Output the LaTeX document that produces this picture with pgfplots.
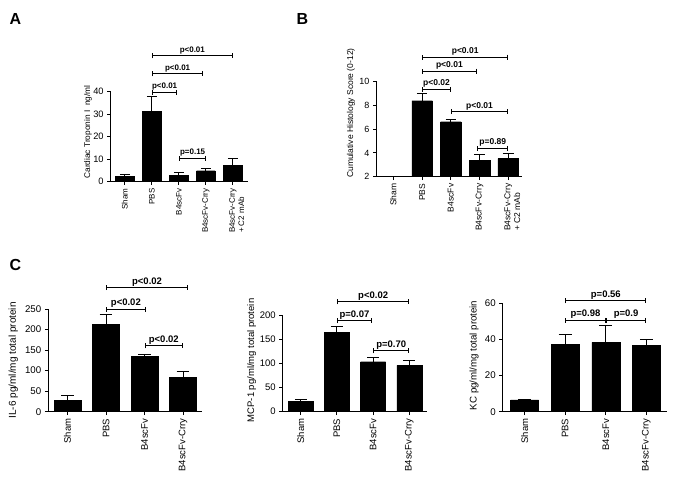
\documentclass[border=0pt]{standalone}
\usepackage{fontspec}
\setmainfont{Liberation Sans}
\usepackage{pgfplots}
\pgfplotsset{compat=1.18}
\usetikzlibrary{arrows.meta}
\newcommand{\fs}[1]{\fontsize{#1}{#1}\selectfont}
\newcommand{\pfont}{\bfseries\fs{8}}
\newcommand{\br}[4]{\draw[{Bar[width=5pt]}-{Bar[width=5pt]}, line width=1pt] (axis cs:#1,#3) -- (axis cs:#2,#3) node[midway, anchor=base, inner sep=0pt, yshift=3.5pt, font=\pfont]{#4};}
\newcommand{\twoline}{\rlap{\smash{\raisebox{-1.15em}{+ C2 mAb}}}B4scFv-Crry}
\pgfplotsset{
  panel/.style={
    scale only axis,
    anchor=south west,
    axis lines=left,
    axis line style={-, line width=1pt},
    tick style={line width=1pt, black},
    tick align=outside,
    major tick length=3.5pt,
    enlargelimits=false,
    clip mode=individual,
    ybar,
    xtick={0,1,2,3,4},
    xticklabel style={rotate=90, anchor=east},
    /pgf/number format/assume math mode=true,
    every axis y label/.append style={anchor=center},
  },
  barsty/.style={fill=black, draw=black, line width=0.4pt,
    error bars/.cd, y dir=plus, y explicit,
    error bar style={line width=1pt, black},
    error mark options={rotate=90, line width=1pt, black, mark size=#1}},
}
\begin{document}
\begin{tikzpicture}
\useasboundingbox (0,0) rectangle (676pt,485pt);
\node[anchor=base west, inner sep=0pt, font=\bfseries\fs{16}] at (9.5pt,460pt) {A};
\node[anchor=base west, inner sep=0pt, font=\bfseries\fs{16}] at (296.5pt,460pt) {B};
\node[anchor=base west, inner sep=0pt, font=\bfseries\fs{16}] at (9.5pt,215pt) {C};

% ---------------- A
\renewcommand{\pfont}{\bfseries\fs{8}}
\begin{axis}[panel, at={(110.7pt,303.5pt)}, width=137.3pt, height=89.8pt,
  xmin=-0.52, xmax=4.56, ymin=0, ymax=40, ytick={0,10,20,30,40},
  bar width=18.5pt,
  xticklabels={Sham,PBS,B4scFv,B4scFv-Crry,\twoline},
  xticklabel style={font=\fs{8}}, yticklabel style={font=\fs{9.3}},
  ylabel={Cardiac Troponin I\ \ ng/ml}, ylabel style={font=\fs{8.3}, at={(axis description cs:-0.165,0.55)}}]
\addplot[barsty=5pt] coordinates {(0,2.4) +- (0,0.6) (1,31.4) +- (0,6.4) (2,2.8) +- (0,1.2) (3,4.8) +- (0,1.0) (4,7.3) +- (0,3.0)};
\br{1}{4}{55.9}{p<0.01}
\br{1}{2.91}{47.9}{p<0.01}
\br{1}{1.95}{39.7}{p<0.01}
\br{2.02}{3.0}{10.3}{p=0.15}
\end{axis}

% ---------------- B
\renewcommand{\pfont}{\bfseries\fs{8.5}}
\begin{axis}[panel, at={(376.5pt,308.3pt)}, width=145.5pt, height=95pt,
  xmin=-0.59, xmax=4.48, ymin=2, ymax=10, ytick={2,4,6,8,10},
  bar width=20.5pt,
  xticklabels={Sham,PBS,B4scFv,B4scFv-Crry,\twoline},
  xticklabel style={font=\fs{8.5}}, yticklabel style={font=\fs{9}},
  ylabel={Cumulative Histology Score (0-12)}, ylabel style={font=\fs{8.5}, at={(axis description cs:-0.175,0.67)}}]
\addplot[barsty=5.3pt] coordinates {(1,8.4) +- (0,0.6) (2,6.63) +- (0,0.2) (3,3.4) +- (0,0.45) (4,3.52) +- (0,0.45)};
\br{1}{4}{12.08}{p<0.01}
\br{1}{2.9}{10.9}{p<0.01}
\br{1}{2}{9.36}{p<0.02}
\br{2}{4}{7.47}{p<0.01}
\br{2.92}{4}{4.39}{p=0.89}
\end{axis}

% ---------------- IL-6
\renewcommand{\pfont}{\bfseries\fs{9.5}}
\begin{axis}[panel, at={(48.3pt,73.3pt)}, width=153.6pt, height=102.7pt,
  xmin=-0.5, xmax=3.49, ymin=0, ymax=250, ytick={0,50,100,150,200,250},
  bar width=26.7pt,
  xticklabels={Sham,PBS,B4scFv,B4scFv-Crry},
  xticklabel style={font=\fs{9.5}}, yticklabel style={font=\fs{9.7}},
  ylabel={IL-6 pg/ml/mg total protein}, ylabel style={font=\fs{10}, at={(axis description cs:-0.228,0.5)}}]
\addplot[barsty=6.3pt] coordinates {(0,28.4) +- (0,10.6) (1,212.7) +- (0,24.3) (2,134) +- (0,5) (3,83.6) +- (0,13.8)};
\br{1}{3.13}{302}{p<0.02}
\br{1}{2.03}{249}{p<0.02}
\br{2}{3}{160}{p<0.02}
\end{axis}

% ---------------- MCP-1
\begin{axis}[panel, at={(282.7pt,73.3pt)}, width=144pt, height=96.7pt,
  xmin=-0.5, xmax=3.48, ymin=0, ymax=200, ytick={0,50,100,150,200},
  bar width=25pt,
  xticklabels={Sham,PBS,B4scFv,B4scFv-Crry},
  xticklabel style={font=\fs{9.5}}, yticklabel style={font=\fs{9.5}},
  ylabel={MCP-1 pg/ml/mg total protein}, ylabel style={font=\fs{9.5}, at={(axis description cs:-0.215,0.53)}}]
\addplot[barsty=6pt] coordinates {(0,22) +- (0,3.5) (1,163.4) +- (0,13.6) (2,103.4) +- (0,9) (3,95.9) +- (0,9.6)};
\br{1}{3}{227}{p<0.02}
\br{1}{1.97}{187.6}{p=0.07}
\br{2}{3}{126}{p=0.70}
\end{axis}

% ---------------- KC
\begin{axis}[panel, at={(502.7pt,73.3pt)}, width=164pt, height=108.4pt,
  xmin=-0.54, xmax=3.5, ymin=0, ymax=60, ytick={0,20,40,60},
  bar width=28pt,
  xticklabels={Sham,PBS,B4scFv,B4scFv-Crry},
  xticklabel style={font=\fs{9.5}}, yticklabel style={font=\fs{9.7}},
  ylabel={KC pg/ml/mg total protein}, ylabel style={font=\fs{9.7}, at={(axis description cs:-0.175,0.52)}}]
\addplot[barsty=6.5pt] coordinates {(0,6.5) +- (0,0.5) (1,37.3) +- (0,5.7) (2,38.4) +- (0,9.4) (3,36.7) +- (0,3)};
\br{1}{3}{61.3}{p=0.56}
\br{1}{2}{50.5}{p=0.98}
\br{2}{3}{50.5}{p=0.9}
\end{axis}
\end{tikzpicture}
\end{document}
